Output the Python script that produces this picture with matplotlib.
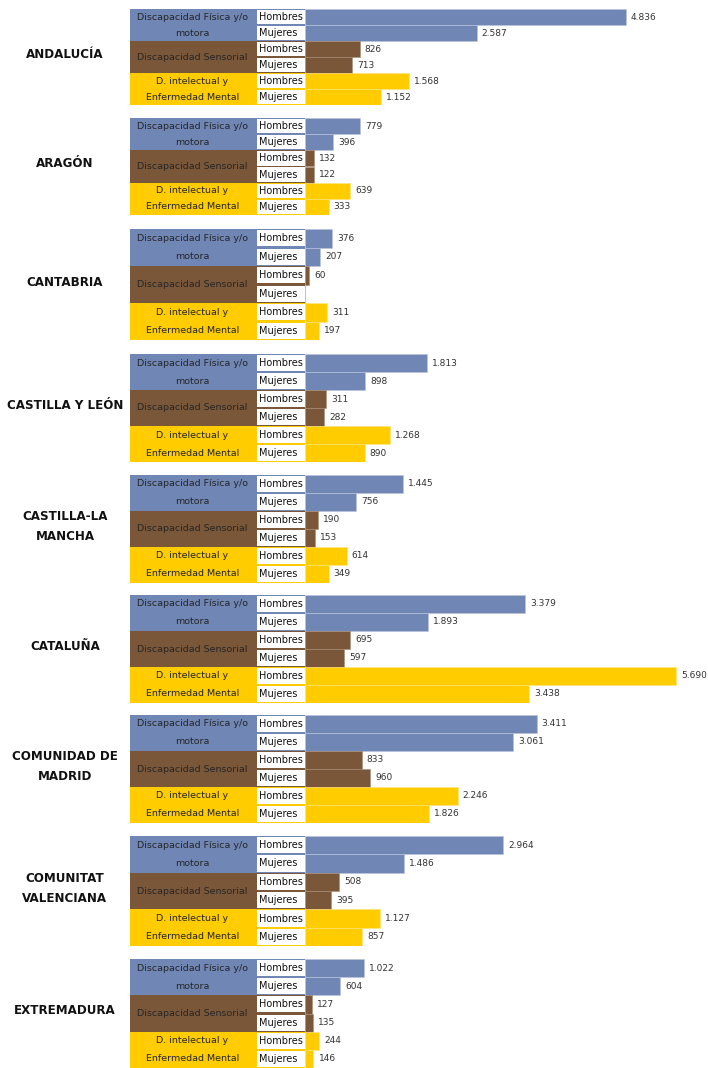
import matplotlib
matplotlib.use("Agg")
import matplotlib.pyplot as plt
from matplotlib.patches import Rectangle
from matplotlib.transforms import blended_transform_factory

# --- data -------------------------------------------------------------
regions = ["ANDALUCÍA", "ARAGÓN", "CANTABRIA", "CASTILLA Y LEÓN",
           "CASTILLA-LA\nMANCHA", "CATALUÑA", "COMUNIDAD DE\nMADRID",
           "COMUNITAT\nVALENCIANA", "EXTREMADURA"]

categories = [("Discapacidad Física y/o", "motora"),
              ("Discapacidad Sensorial",),
              ("D. intelectual y", "Enfermedad Mental")]
sexes = ["Hombres", "Mujeres"]

# order per region: física H, física M, sensorial H, sensorial M, intelectual H, intelectual M
fisica_h = [4836, 779, 376, 1813, 1445, 3379, 3411, 2964, 1022]
fisica_m = [2587, 396, 207, 898, 756, 1893, 3061, 1486, 604]
sensorial_h = [826, 132, 60, 311, 190, 695, 833, 508, 127]
sensorial_m = [713, 122, None, 282, 153, 597, 960, 395, 135]
intelectual_h = [1568, 639, 311, 1268, 614, 5690, 2246, 1127, 244]
intelectual_m = [1152, 333, 197, 890, 349, 3438, 1826, 857, 146]

# --- layout (pixels) ----------------------------------------------------
W, H = 708, 1068
panel_span = [(9, 105), (118, 215), (229, 340), (354, 462), (475, 583),
              (595, 703), (715, 823), (836, 946), (959, 1068)]
px_per_unit = [0.0663, 0.0706, 0.072, 0.0672, 0.0677, 0.0652, 0.0679, 0.0668, 0.058]
X_BLOCK, X_BOX, X_ZERO = 130, 257, 305

colors = ["#7086B5", "#7A5739", "#FFCC00"]
edge_colors = ["#B9C5DE", "#A88C74", "#FFE27A"]
text_dark = "#262626"
value_color = "#333333"

plt.rcParams["font.family"] = ["DejaVu Sans"]
fig = plt.figure(figsize=(W / 100, H / 100), dpi=100)
fig.patch.set_facecolor("white")


def fmt(v):
    return f"{v:,}".replace(",", ".")


for r, name in enumerate(regions):
    top, bottom = panel_span[r]
    s = px_per_unit[r]
    ax = fig.add_axes([X_BLOCK / W, 1 - bottom / H, (W - X_BLOCK) / W, (bottom - top) / H])
    ax.set_xlim(-(X_ZERO - X_BLOCK) / s, (W - X_ZERO) / s)
    ax.set_ylim(6, 0)
    ax.axis("off")

    vals = [fisica_h[r], fisica_m[r], sensorial_h[r], sensorial_m[r],
            intelectual_h[r], intelectual_m[r]]
    xleft = -(X_ZERO - X_BLOCK) / s
    box_left = -(X_ZERO - X_BOX) / s
    fig_x = blended_transform_factory(fig.transFigure, ax.transData)

    for c in range(3):
        # category background block
        ax.add_patch(Rectangle((xleft, 2 * c), -xleft, 2, facecolor=colors[c],
                               edgecolor="none", zorder=1))
        lines = categories[c]
        cx = (X_BLOCK + X_BOX - 2) / 2 / W
        if len(lines) == 2:
            for k, line in enumerate(lines):
                ax.text(cx, 2 * c + k + 0.5, line, transform=fig_x, ha="center",
                        va="center", fontsize=6.8, color=text_dark, zorder=5)
        else:
            ax.text(cx, 2 * c + 1, lines[0], transform=fig_x, ha="center",
                    va="center", fontsize=6.8, color=text_dark, zorder=5)

    for i, v in enumerate(vals):
        c = i // 2
        yc = i + 0.5
        width = v if v is not None else 0
        ax.barh(yc, width, height=1.0, left=0, color=colors[c],
                edgecolor=edge_colors[c], linewidth=0.4, zorder=2)
        # white label box with sex
        ax.add_patch(Rectangle((box_left, i + 0.06), -box_left, 0.88,
                               facecolor="white", edgecolor="none", zorder=3))
        ax.text((X_BOX + 2) / W, yc, sexes[i % 2], transform=fig_x, ha="left",
                va="center", fontsize=7, color="#111111", zorder=5)
        if v is not None:
            ax.annotate(fmt(v), xy=(v, yc), xytext=(3.6, 0), textcoords="offset points",
                        ha="left", va="center", fontsize=6.5, color=value_color,
                        zorder=6,
                        bbox=dict(boxstyle="square,pad=0.15", facecolor="white",
                                  edgecolor="none"))

    # region name
    fig.text(65 / W, 1 - ((top + bottom) / 2 - 2.5) / H, name, ha="center",
             va="center", fontsize=8.6, fontweight="bold", color="#111111",
             linespacing=1.8)

fig.savefig("out.png", dpi=100, facecolor="white")
